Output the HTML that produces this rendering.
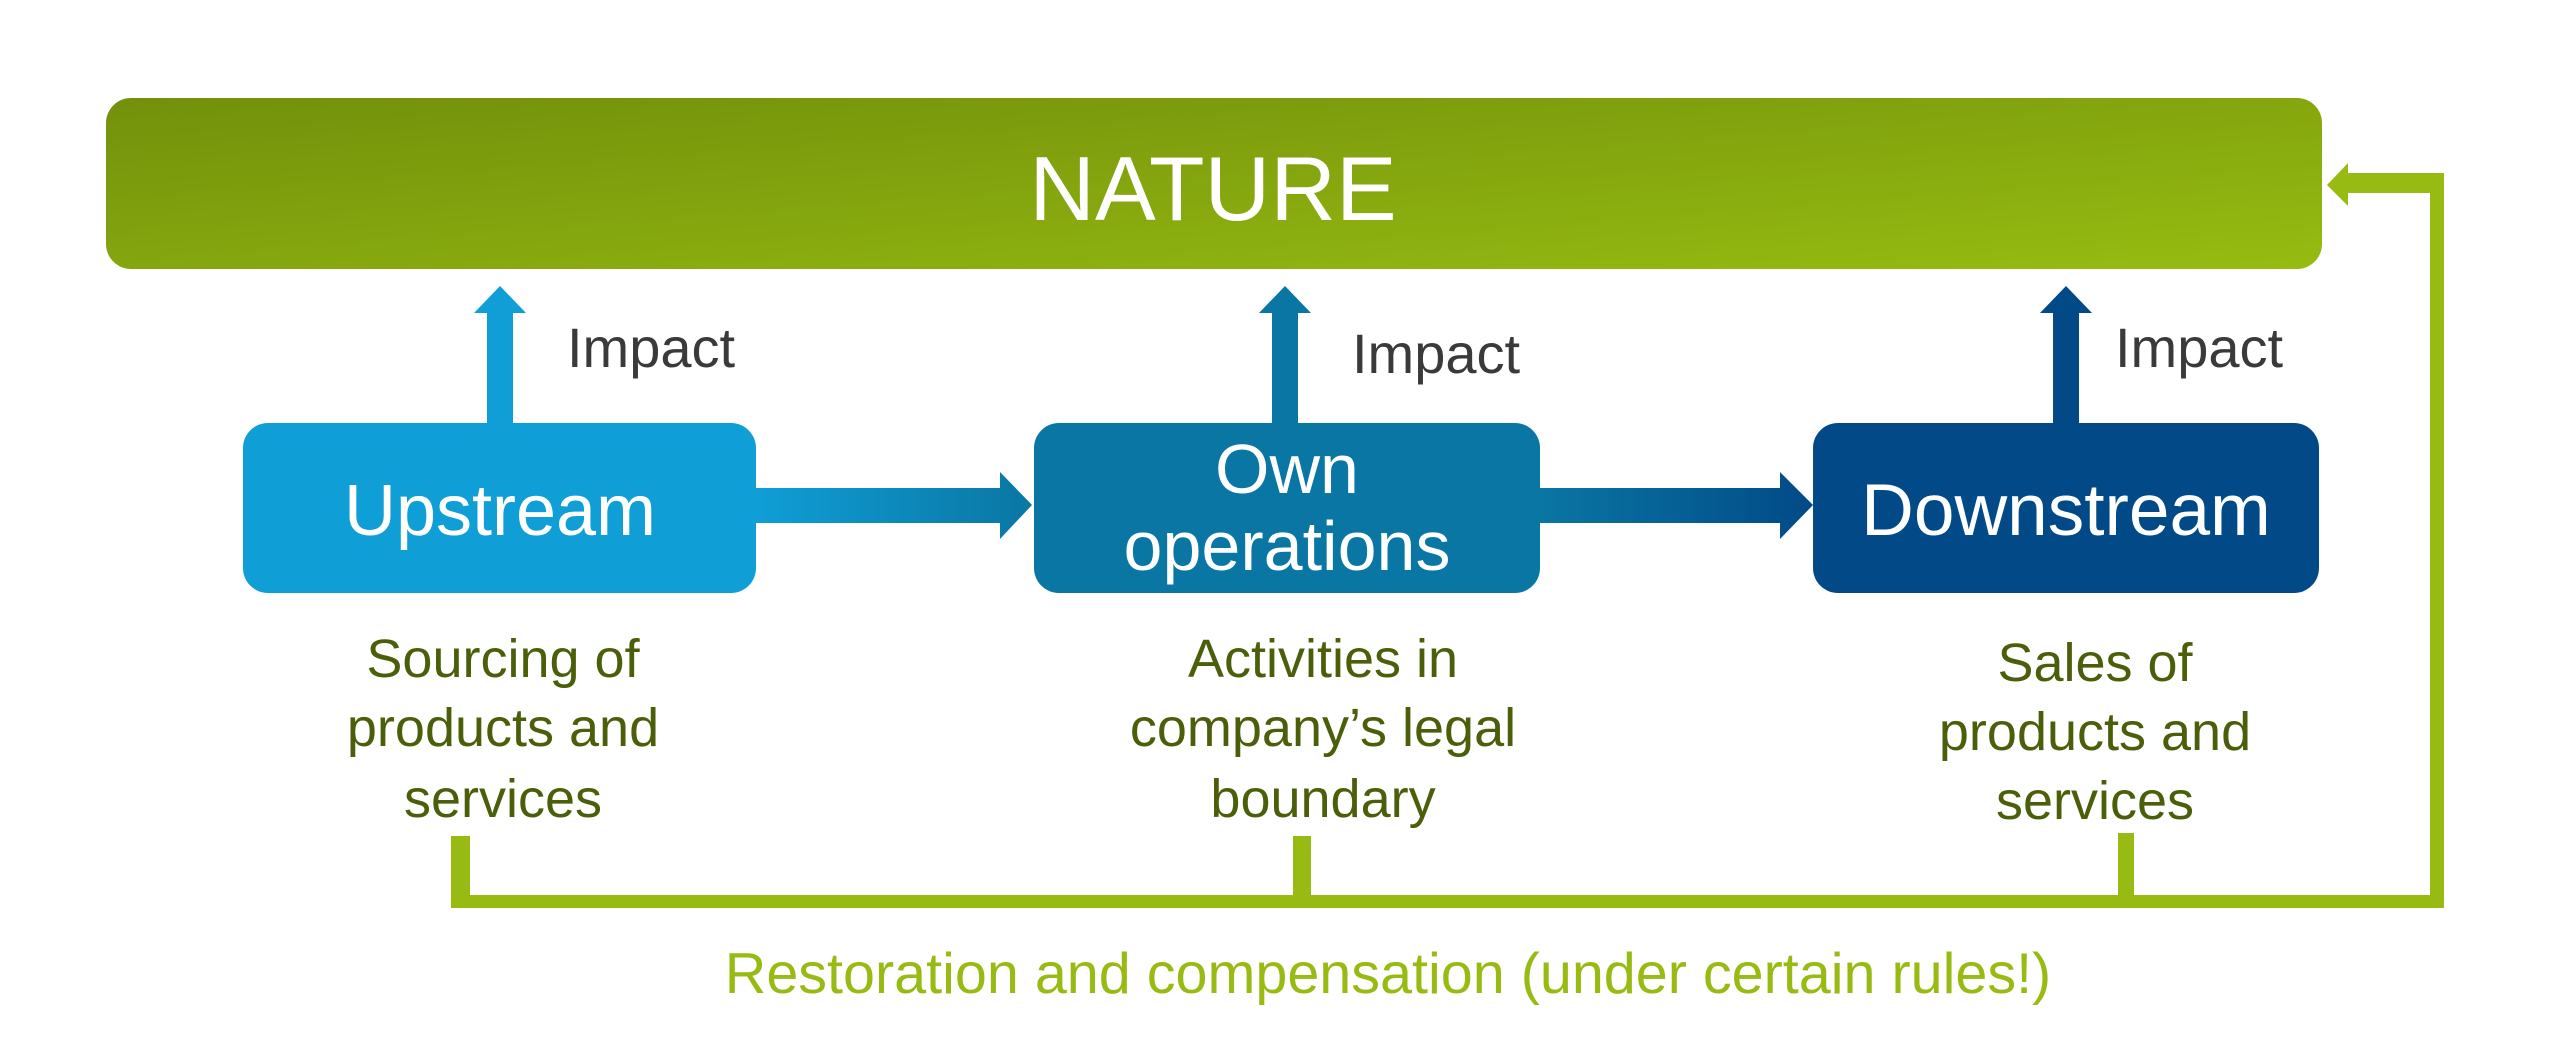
<!DOCTYPE html>
<html><head><meta charset="utf-8"><style>
html,body{margin:0;padding:0;background:#fff;}
svg{display:block;}
text{font-family:"Liberation Sans",Arial,sans-serif;}
</style></head><body>
<svg width="2560" height="1063" viewBox="0 0 2560 1063" xmlns="http://www.w3.org/2000/svg">
<defs>
<linearGradient id="ng" x1="0" y1="0" x2="1" y2="1" gradientUnits="objectBoundingBox">
<stop offset="0" stop-color="#73900b"/><stop offset="1" stop-color="#96bc11"/>
</linearGradient>
<linearGradient id="a1" x1="0" x2="1"><stop offset="0" stop-color="#0f9ed6"/><stop offset="1" stop-color="#0a76a3"/></linearGradient>
<linearGradient id="a2" x1="0" x2="1"><stop offset="0" stop-color="#0a76a3"/><stop offset="1" stop-color="#014a87"/></linearGradient>
</defs>
<rect x="106" y="98" width="2216" height="171" rx="25" fill="url(#ng)"/>
<text x="1213" y="220" font-size="91" fill="#fff" text-anchor="middle">NATURE</text>

<path d="M487 423 V313 H474 L500 286 L526 313 H513 V423 Z" fill="#0f9ed6"/>
<path d="M1272 423 V313 H1259 L1285 286 L1311 313 H1298 V423 Z" fill="#0a76a3"/>
<path d="M2053 423 V313 H2040 L2066 286 L2092 313 H2079 V423 Z" fill="#014a87"/>
<text x="567" y="367" font-size="56" fill="#3a3a3a">Impact</text>
<text x="1352" y="373" font-size="56" fill="#3a3a3a">Impact</text>
<text x="2115" y="367" font-size="56" fill="#3a3a3a">Impact</text>

<path d="M756 488 H1000 V472 L1032 505 L1000 539 V523 H756 Z" fill="url(#a1)"/>
<path d="M1540 488 H1780 V472 L1813 505 L1780 539 V523 H1540 Z" fill="url(#a2)"/>

<rect x="243" y="423" width="513" height="170" rx="25" fill="#0f9ed6"/>
<rect x="1034" y="423" width="506" height="170" rx="25" fill="#0a76a3"/>
<rect x="1813" y="423" width="506" height="170" rx="25" fill="#014a87"/>
<text x="500" y="535" font-size="72" fill="#fff" text-anchor="middle">Upstream</text>
<text x="1287" y="493" font-size="70" fill="#fff" text-anchor="middle">Own</text>
<text x="1287" y="570" font-size="70" fill="#fff" text-anchor="middle">operations</text>
<text x="2066" y="535" font-size="73" fill="#fff" text-anchor="middle">Downstream</text>

<g font-size="54" fill="#4b5f0a" text-anchor="middle">
<text x="503" y="677">Sourcing of</text>
<text x="503" y="746">products and</text>
<text x="503" y="817">services</text>
<text x="1323" y="677">Activities in</text>
<text x="1323" y="746">company’s legal</text>
<text x="1323" y="817">boundary</text>
<text x="2095" y="681">Sales of</text>
<text x="2095" y="750">products and</text>
<text x="2095" y="819">services</text>
</g>

<g fill="#97bb12">
<rect x="451" y="836" width="19" height="72"/>
<rect x="1293" y="836" width="18" height="72"/>
<rect x="2118" y="833" width="16" height="75"/>
<rect x="451" y="895" width="1993" height="13"/>
<rect x="2430" y="185" width="14" height="723"/>
<rect x="2348" y="173" width="96" height="20"/>
<path d="M2348 163 L2327 185 L2348 206 Z"/>
</g>
<text x="1388" y="993" font-size="57.5" fill="#97bb12" text-anchor="middle">Restoration and compensation (under certain rules!)</text>
</svg>
</body></html>
